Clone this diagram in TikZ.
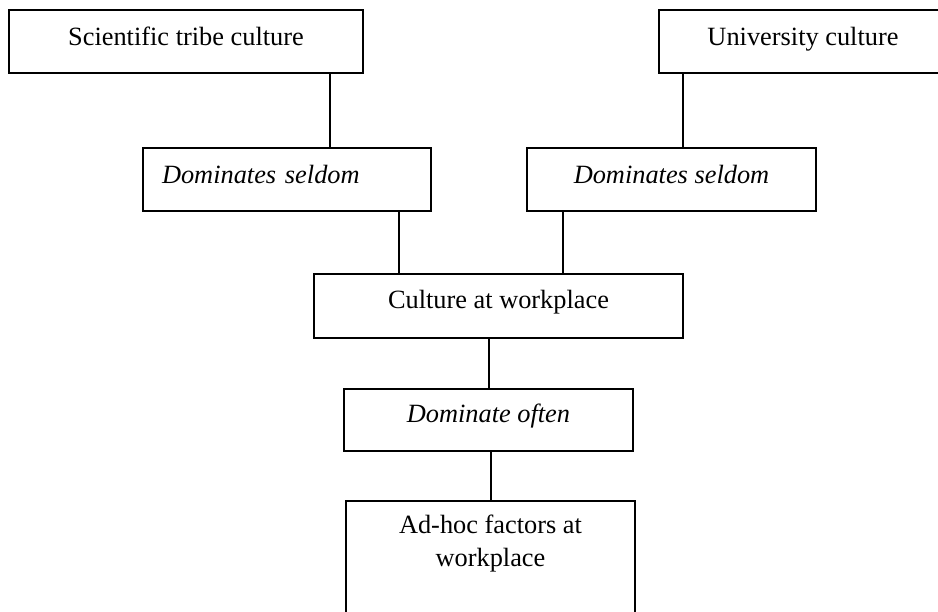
\documentclass[tikz,border=0pt]{standalone}
\usepackage{fontspec}
\setmainfont{Liberation Serif}

\tikzset{
    box/.style={draw=black, line width=1pt, inner ysep=0pt, anchor=north,
        font=\fontsize{15}{18.8}\selectfont, text height=0.72cm, text depth=0.54cm},
    link/.style={black, line width=1pt}
}

\begin{document}
\begin{tikzpicture}[x=0.02cm, y=-0.02cm]
        \useasboundingbox (0,0) rectangle (938,612);

        \node[box, minimum width=7.08cm] (sci) at (186,9) {Scientific tribe culture};
        \node[box, minimum width=5.76cm] (uni) at (803,9) {University culture};

        \node[box, inner xsep=0.38cm, text width=5.0cm, align=left] (domL) at (287,147) {\itshape Dominates seldom};
        \node[box, minimum width=5.78cm] (domR) at (671.5,147) {\itshape Dominates seldom};

        \node[box, minimum width=7.38cm, text height=0.70cm, text depth=0.58cm] (cult) at (498.5,273) {Culture at workplace};
        \node[box, minimum width=5.78cm, text height=0.68cm, text depth=0.56cm] (often) at (488.5,388) {\itshape Dominate often};
        \node[box, minimum width=5.78cm, align=center, text height=1.32cm, text depth=1.5cm] (adhoc) at (490.5,500) {Ad-hoc factors at\\workplace};

        \coordinate (P) at (330,0);
        \coordinate (Q) at (683,0);
        \coordinate (R) at (399,0);
        \coordinate (S) at (563,0);
        \coordinate (T) at (489,0);
        \coordinate (U) at (491,0);

        \draw[link] (sci.south -| P) -- (domL.north -| P);
        \draw[link] (uni.south -| Q) -- (domR.north -| Q);
        \draw[link] (domL.south -| R) -- (cult.north -| R);
        \draw[link] (domR.south -| S) -- (cult.north -| S);
        \draw[link] (cult.south -| T) -- (often.north -| T);
        \draw[link] (often.south -| U) -- (adhoc.north -| U);
\end{tikzpicture}
\end{document}
